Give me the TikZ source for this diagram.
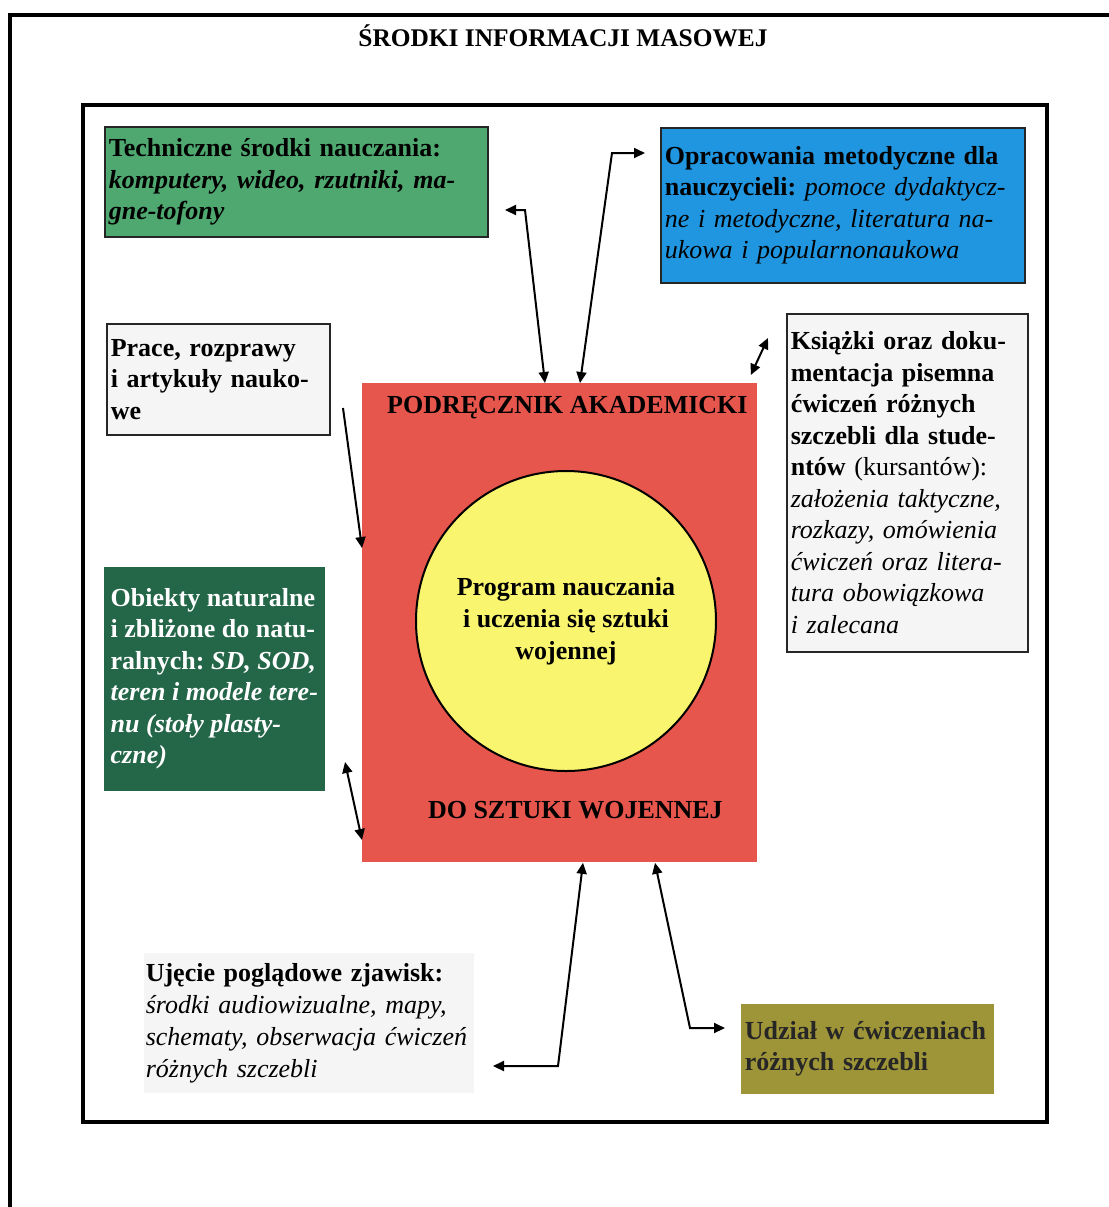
\documentclass[tikz,border=0pt]{standalone}
\usepackage{fontspec}
\setmainfont{Liberation Serif}
\usepackage{xcolor}
\usepackage{tikz}
\usetikzlibrary{arrows.meta,shapes,positioning}

\definecolor{techgreen}{RGB}{78,168,112}
\definecolor{opblue}{RGB}{32,150,224}
\definecolor{objgreen}{RGB}{36,102,72}
\definecolor{podrred}{RGB}{230,86,76}
\definecolor{progyellow}{RGB}{250,245,110}
\definecolor{udzolive}{RGB}{158,148,56}
\definecolor{paper}{RGB}{245,245,245}

\newcommand{\boxfont}{\fontsize{13}{15.75}\selectfont\frenchspacing}

\begin{document}
\begin{tikzpicture}[x=0.5pt, y=-0.5pt,
    box/.style={draw=black!85, line width=0.8pt, anchor=north west, align=left, inner sep=2pt, font=\boxfont\bfseries},
    link/.style={line width=1pt, >={Triangle[length=5.5pt,width=5pt]}}]
    \useasboundingbox (0,0) rectangle (1109,1207);

    % frames
    \draw[line width=2pt] (10,1207) -- (10,15) -- (1109,15);
    \draw[line width=1.8pt] (83,105) rectangle (1047,1122);
    \node (title) [anchor=base, font=\fontsize{12.7}{15}\selectfont\bfseries] at (563,46) {ŚRODKI INFORMACJI MASOWEJ};

    % centre
    \node (podr) [fill=podrred, anchor=north west, minimum width=197.5pt, minimum height=239.5pt, inner sep=0pt] at (362,383) {};
    \node (podrhead) [anchor=base, font=\boxfont\bfseries] at ([xshift=3.75pt,yshift=-15pt]podr.north) {PODRĘCZNIK AKADEMICKI};
    \node (podrfoot) [anchor=base, font=\boxfont\bfseries] at ([xshift=7.75pt,yshift=22pt]podr.south) {DO SZTUKI WOJENNEJ};
    \node (prog) [circle, draw, line width=1pt, fill=progyellow, minimum size=150pt, align=center, font=\fontsize{13}{16}\selectfont\bfseries] at (566,621) {Program nauczania\\i uczenia się sztuki\\wojennej};

    % boxes
    \node (tech) [box, fill=techgreen, text width=187.5pt, minimum height=55pt] at (104,126) {Techniczne środki nauczania:\\\itshape komputery, wideo, rzutniki, ma-\\gne-tofony};
    \node (opra) [box, fill=opblue, text width=178pt, minimum height=77.5pt] at (660,127) {Opracowania metodyczne dla\\nauczycieli: \mdseries\itshape pomoce dydaktycz-\\ne i metodyczne, literatura na-\\ukowa i popularnonaukowa};
    \node (prace) [box, fill=paper, text width=107.5pt, minimum height=55.5pt] at (106,323) {Prace, rozprawy\\i artykuły nauko-\\we};
    \node (ksiazki) [box, fill=paper, text width=116.5pt, minimum height=169pt] at (786,313) {Książki oraz doku-\\mentacja pisemna\\ćwiczeń różnych\\szczebli dla stude-\\ntów \mdseries(kursantów):\\\itshape założenia taktyczne,\\rozkazy, omówienia\\ćwiczeń oraz litera-\\tura obowiązkowa\\i zalecana};
    \node (obiekty) [box, draw=objgreen, fill=objgreen, text=white, minimum width=109.5pt, minimum height=111pt] at (104,567) {Obiekty naturalne\\i zbliżone do natu-\\ralnych: \itshape SD, SOD,\\\itshape teren i modele tere-\\\itshape nu (stoły plasty-\\\itshape czne)};
    \node (ujecie) [box, draw=none, fill=paper, inner xsep=1pt, text width=163pt, minimum height=70pt, font=\fontsize{13}{16}\selectfont\frenchspacing\bfseries] at (143,952) {Ujęcie poglądowe zjawisk:\\\mdseries\itshape środki audiowizualne, mapy,\\schematy, obserwacja ćwiczeń\\różnych szczebli};
    \node (udzial) [box, draw=none, fill=udzolive, text=black!85, text width=122.5pt, minimum height=45pt] at (740,1003) {Udział w ćwiczeniach\\różnych szczebli};

    % free ends of the connectors
    \coordinate (techIn) at (505,210);
    \coordinate (opraIn) at (645,153);
    \coordinate (ksiazkiIn) at (768,338);
    \coordinate (praceIn) at (343,408);
    \coordinate (obiektyIn) at (345,762);
    \coordinate (ujecieIn) at (493,1066);
    \coordinate (udzialIn) at (725,1028);

    \draw[link, <->] (techIn) -- ++(20,0) -- ([xshift=91.5pt]podr.north west);
    \draw[link, <->] ([xshift=109pt]podr.north west) -- ([xshift=-16.5pt]opraIn) -- (opraIn);
    \draw[link, <->] (ksiazkiIn) -- ([xshift=-3.5pt,yshift=4pt]podr.north east);
    \draw[link, ->] (praceIn) -- ([yshift=-82.5pt]podr.north west);
    \draw[link, <->] (obiektyIn) -- ([yshift=-228.5pt]podr.north west);
    \draw[link, <->] ([xshift=110.5pt]podr.south west) -- ([xshift=32.5pt]ujecieIn) -- (ujecieIn);
    \draw[link, <->] ([xshift=146.5pt]podr.south west) -- ([xshift=-17.5pt]udzialIn) -- (udzialIn);
\end{tikzpicture}
\end{document}
